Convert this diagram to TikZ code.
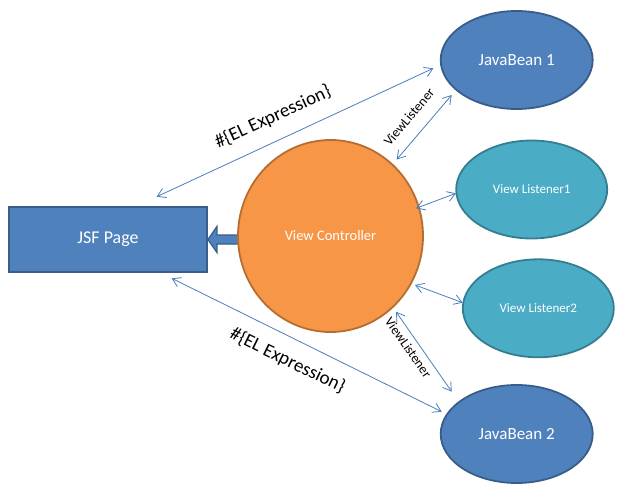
\documentclass[tikz,border=0pt]{standalone}
\usepackage{fontspec}
\setmainfont{Carlito}
\usetikzlibrary{shapes.geometric,arrows.meta,backgrounds}
\definecolor{bfill}{HTML}{4F81BD}
\definecolor{bdraw}{HTML}{385D8A}
\definecolor{ofill}{HTML}{F79646}
\definecolor{odraw}{HTML}{B66D31}
\definecolor{afill}{HTML}{4BACC6}
\definecolor{adraw}{HTML}{357D91}
\definecolor{lcol}{HTML}{4A7EBB}
\newcommand{\fsz}[1]{\fontsize{#1}{#1}\selectfont}
\tikzset{
  bean/.style={ellipse, draw=bdraw, fill=bfill, line width=1.8pt, inner sep=0pt,
    minimum width=152pt, minimum height=98pt, text=white, font=\fsz{17}},
  listener/.style={ellipse, draw=adraw, fill=afill, line width=1.8pt, inner sep=0pt,
    minimum width=151pt, minimum height=98pt, text=white, font=\fsz{13}},
  ctrl/.style={ellipse, draw=odraw, fill=ofill, line width=1.8pt, inner sep=0pt,
    minimum width=185pt, minimum height=192pt, text=white, font=\fsz{14.5}},
  page/.style={rectangle, draw=bdraw, fill=bfill, line width=1.8pt, inner sep=0pt,
    minimum width=198pt, minimum height=64.5pt, text=white, font=\fsz{18}},
  link/.style={draw=lcol, line width=0.8pt,
    {Straight Barb[length=8pt,width=10pt]}-{Straight Barb[length=8pt,width=10pt]}},
  blockarrow/.style={draw=bdraw, fill=bfill, line width=1.2pt, line join=miter},
  lbl/.style={text=black, inner sep=0pt}
}
\begin{document}
\begin{tikzpicture}[x=1pt,y=-1pt]
\useasboundingbox (0,0) rectangle (630,498);
\node[page] (jsf) at (108,239.5) {JSF Page};
\node[ctrl] (vc) at (330.5,236) {View Controller};
\node[bean] (jb1) at (516.7,60) {JavaBean 1};
\node[listener] (vl1) at (531.7,189.5) {View Listener1};
\node[listener] (vl2) at (538.3,308.3) {View Listener2};
\node[bean] (jb2) at (516.7,434) {JavaBean 2};

\begin{pgfonlayer}{background}
\draw[blockarrow] (jsf.east) -- ++(9,-13) -- ++(0,8.5) coordinate (s1)
  -- (s1 -| vc.center) -- ++(0,9) coordinate (s2) -- (s2 -| s1) -- ++(0,8.5) -- cycle;
\end{pgfonlayer}

\coordinate (e1a) at (156.7,196.7);
\coordinate (e1b) at (433.3,68.3);
\coordinate (v1a) at (396.7,159.5);
\coordinate (v1b) at (451.7,95);
\coordinate (l1a) at (416,208.3);
\coordinate (l1b) at (456,193.3);
\coordinate (l2a) at (415,285);
\coordinate (l2b) at (462.7,302.7);
\coordinate (v2a) at (396,311.7);
\coordinate (v2b) at (451.7,391.7);
\coordinate (e2a) at (171.7,278.3);
\coordinate (e2b) at (441.7,411.7);

\draw[link] (e1a) -- (e1b);
\draw[link] (v1a) -- (v1b);
\draw[link] (l1a) -- (l1b);
\draw[link] (l2a) -- (l2b);
\draw[link] (v2a) -- (v2b);
\draw[link] (e2a) -- (e2b);

\node[lbl, font=\fsz{19}, rotate=25] (t1) at (273,117) {\#\{EL Expression\}};
\node[lbl, font=\fsz{13.5}, rotate=50] (t2) at (409,117) {ViewListener};
\node[lbl, font=\fsz{19}, rotate=-26] (t3) at (287.5,360.7) {\#\{EL Expression\}};
\node[lbl, font=\fsz{13.5}, rotate=-55] (t4) at (408.3,347.5) {ViewListener};
\end{tikzpicture}
\end{document}
